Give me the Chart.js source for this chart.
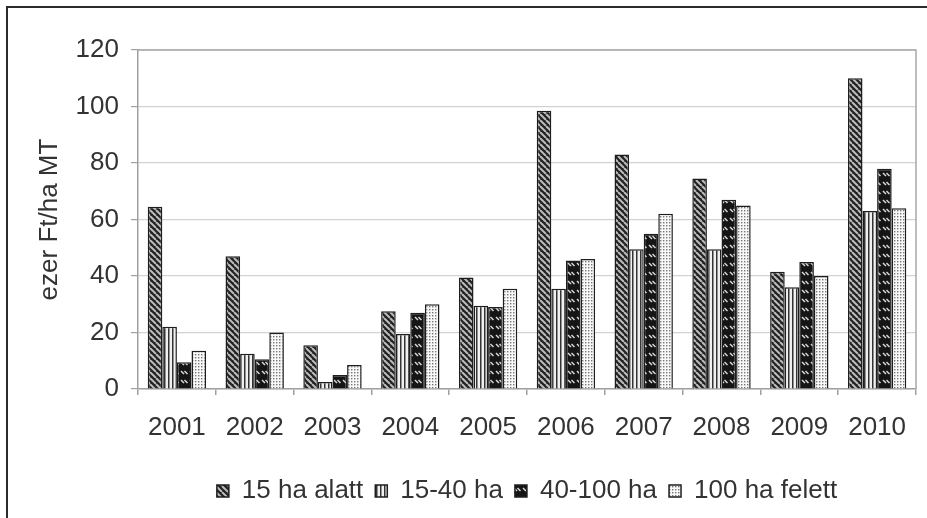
<!DOCTYPE html>
<html>
<head>
<meta charset="utf-8">
<script src="https://cdn.jsdelivr.net/npm/chart.js@4/dist/chart.umd.min.js"></script>
<style>
  html, body { margin: 0; padding: 0; background: #fff; }
  #wrap { width: 927px; height: 518px; position: relative; }
</style>
</head>
<body>
<div id="wrap"><canvas id="chart" width="927" height="518"></canvas></div>
<script>
// adatok (ezer Ft/ha MT)
const years = ["2001", "2002", "2003", "2004", "2005", "2006", "2007", "2008", "2009", "2010"];
const seriesNames = ["15 ha alatt", "15-40 ha", "40-100 ha", "100 ha felett"];
const under15 = [64.5, 47, 15.5, 27.5, 39.5, 98.5, 83, 74.5, 41.5, 110];
const from15to40 = [22, 12.5, 2.5, 19.5, 29.5, 35.5, 49.5, 49.5, 36, 63];
const from40to100 = [9.5, 10.5, 5, 27, 29, 45.5, 55, 67, 45, 78];
const over100 = [13.5, 20, 8.5, 30, 35.5, 46, 62, 65, 40, 64];
const yTicks = [0, 20, 40, 60, 80, 100, 120];

const FONT = "'Liberation Sans', Arial, sans-serif";
const FSIZE = 26;

// mintak a oszlopokhoz
function makePattern(w, h, draw) {
  const c = document.createElement("canvas");
  c.width = w;
  c.height = h;
  const g = c.getContext("2d");
  draw(g, w, h);
  return g.createPattern(c, "repeat");
}

const ctx = document.getElementById("chart").getContext("2d");

const diagPattern = makePattern(6, 6, (g, w) => {
  g.fillStyle = "#222";
  g.fillRect(0, 0, w, w);
  g.strokeStyle = "#bcbcbc";
  g.lineWidth = 2;
  for (let x = -w; x <= w; x += w) {
    g.beginPath();
    g.moveTo(x, 0);
    g.lineTo(x + w, w);
    g.stroke();
  }
});

const vertPattern = makePattern(4, 4, (g) => {
  g.fillStyle = "#f0f0f0";
  g.fillRect(0, 0, 4, 4);
  g.fillStyle = "#333";
  g.fillRect(0, 0, 1.5, 4);
});

const darkPattern = makePattern(9, 9, (g) => {
  g.fillStyle = "#151515";
  g.fillRect(0, 0, 9, 9);
  g.strokeStyle = "#d8d8d8";
  g.lineWidth = 1.5;
  [[1, 2], [4.5, 2]].forEach(([x, y]) => {
    g.beginPath();
    g.moveTo(x, y);
    g.lineTo(x + 3, y + 3);
    g.stroke();
  });
});

const dotPattern = makePattern(3, 3, (g) => {
  g.fillStyle = "#f8f8f8";
  g.fillRect(0, 0, 3, 3);
  g.fillStyle = "#777";
  g.fillRect(0, 0, 1.4, 1.4);
});

const patterns = [diagPattern, vertPattern, darkPattern, dotPattern];
const values = [under15, from15to40, from40to100, over100];

// keret: kulso vonal + rajzterulet felso/jobb szele
const framePlugin = {
  id: "frame",
  beforeDraw(chart) {
    const g = chart.ctx;
    g.save();
    g.strokeStyle = "#2b2b2b";
    g.lineWidth = 2;
    g.beginPath();
    g.moveTo(7, 518);
    g.lineTo(7, 7);
    g.lineTo(927, 7);
    g.stroke();
    g.restore();
  },
  afterDatasetsDraw(chart) {
    const a = chart.chartArea;
    const g = chart.ctx;
    g.save();
    g.strokeStyle = "#a8a8a8";
    g.lineWidth = 1.5;
    g.beginPath();
    g.moveTo(a.left, a.top);
    g.lineTo(a.right, a.top);
    g.lineTo(a.right, a.bottom);
    g.stroke();
    g.restore();
  }
};

new Chart(ctx, {
  type: "bar",
  data: {
    labels: years,
    datasets: seriesNames.map((name, i) => ({
      label: name,
      data: values[i],
      backgroundColor: patterns[i],
      borderColor: "#1e1e1e",
      borderWidth: 1.5,
      borderSkipped: "bottom",
      categoryPercentage: 0.75,
      barPercentage: 1.0
    }))
  },
  options: {
    responsive: false,
    animation: false,
    layout: { padding: { left: 22, right: 11, top: 50, bottom: 4 } },
    plugins: {
      tooltip: { enabled: false },
      legend: {
        position: "bottom",
        fullSize: false,
        labels: {
          color: "#333",
          font: { family: FONT, size: FSIZE },
          boxWidth: 12,
          boxHeight: 12,
          padding: 12
        }
      }
    },
    scales: {
      x: {
        grid: {
          offset: true,
          drawOnChartArea: false,
          tickLength: 6,
          color: "#a0a0a0",
          lineWidth: 1.5
        },
        border: { color: "#a0a0a0", width: 1.5 },
        ticks: {
          color: "#333",
          font: { family: FONT, size: FSIZE },
          padding: 17,
          maxRotation: 0
        },
        afterFit(scale) { scale.height = 77; }
      },
      y: {
        min: 0,
        max: 120,
        afterBuildTicks(scale) { scale.ticks = yTicks.map(v => ({ value: v })); },
        grid: {
          color: "#d2d2d2",
          lineWidth: 1.2,
          tickLength: 7,
          tickColor: "#a0a0a0"
        },
        border: { color: "#a0a0a0", width: 1.5 },
        ticks: {
          color: "#333",
          font: { family: FONT, size: FSIZE },
          padding: 12
        },
        title: {
          display: true,
          text: "ezer Ft/ha MT",
          color: "#333",
          font: { family: FONT, size: FSIZE },
          padding: { top: 12, bottom: 0 }
        },
        afterFit(scale) { scale.width = 116; }
      }
    }
  },
  plugins: [framePlugin]
});
</script>
</body>
</html>
